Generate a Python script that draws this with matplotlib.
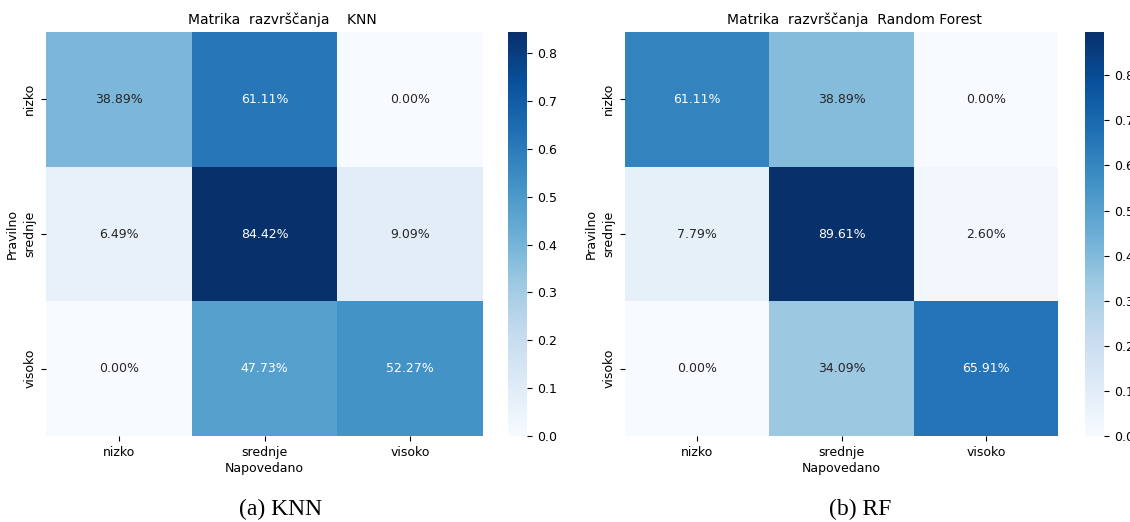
"""Confusion matrices: KNN vs Random Forest."""
import matplotlib

matplotlib.use("Agg")
import matplotlib.pyplot as plt
import numpy as np
import seaborn as sns

classes = ["nizko", "srednje", "visoko"]

cm_knn = np.array([
    [0.3889, 0.6111, 0.0000],
    [0.0649, 0.8442, 0.0909],
    [0.0000, 0.4773, 0.5227],
])
cm_rf = np.array([
    [0.6111, 0.3889, 0.0000],
    [0.0779, 0.8961, 0.0260],
    [0.0000, 0.3409, 0.6591],
])

titles = ["Matrika  razvrščanja    KNN", "Matrika  razvrščanja  Random Forest"]
title_x = [0.54, 0.53]
captions = ["(a) KNN", "(b) RF"]
caption_x = [281, 860]

fig = plt.figure(figsize=(11.3, 5.22), dpi=100)
W, H = 1130, 522


def box(x0, y0, x1, y1):
    return [x0 / W, 1 - y1 / H, (x1 - x0) / W, (y1 - y0) / H]


panels = [
    (box(46, 32, 483, 436), box(508, 32, 527, 436), cm_knn),
    (box(625, 32, 1058, 436), box(1085, 32, 1104, 436), cm_rf),
]

for i, (ax_box, cb_box, cm) in enumerate(panels):
    ax = fig.add_axes(ax_box)
    cax = fig.add_axes(cb_box)
    sns.heatmap(cm, annot=True, fmt=".2%", cmap="Blues", ax=ax, cbar_ax=cax,
                xticklabels=classes, yticklabels=classes,
                annot_kws={"fontsize": 9})
    ax.set_title(titles[i], fontsize=10, x=title_x[i])
    ax.set_xlabel("Napovedano", fontsize=9, labelpad=2)
    ax.set_ylabel("Pravilno", fontsize=9, labelpad=3)
    ax.tick_params(labelsize=9)
    plt.setp(ax.get_yticklabels(), rotation=90, va="center")
    cax.set_yticks(np.arange(0, cm.max() + 1e-9, 0.1))
    cax.tick_params(labelsize=9)
    fig.text(caption_x[i] / W, 1 - 509 / H, captions[i], ha="center", va="center",
             family="Liberation Serif", fontsize=17)

fig.savefig("out.png", dpi=100)
